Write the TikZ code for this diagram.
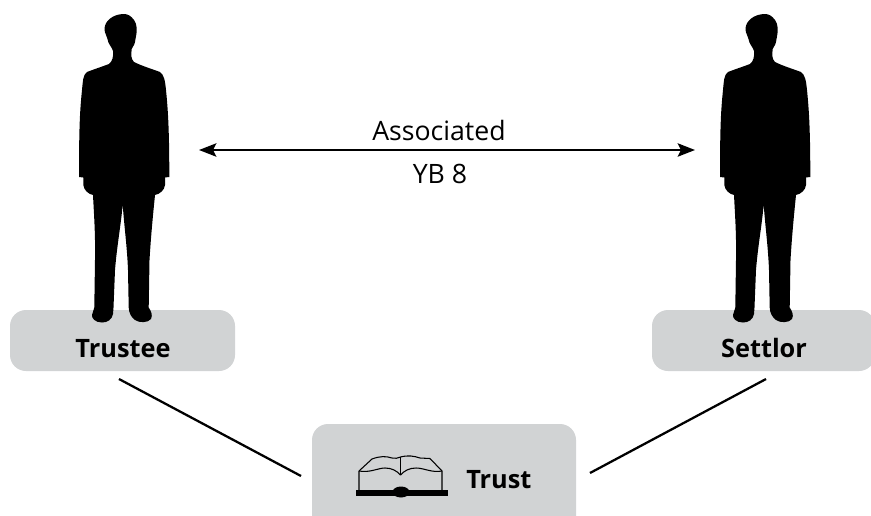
\documentclass[tikz,border=0pt]{standalone}
\usepackage{fontspec}
\setmainfont{Open Sans}
\usetikzlibrary{arrows.meta}
\definecolor{boxgray}{HTML}{D1D3D4}
\tikzset{
  x=0.75pt,y=-0.75pt,
  panel/.style={fill=boxgray,rounded corners=12pt,draw=none},
  lab/.style={font=\fontsize{19}{22}\selectfont\bfseries,text=black,inner sep=0pt},
  plain/.style={font=\fontsize{20}{24}\selectfont,text=black,inner sep=0pt},
  link/.style={line width=1.7pt,black},
  both/.style={line width=1.7pt,black,{Stealth[length=13pt,width=10pt,inset=2.5pt]}-{Stealth[length=13pt,width=10pt,inset=2.5pt]}},
  pagebit/.style={line width=0.8pt,black,line join=round}
}
\newcommand{\personshape}{%
  \fill[black] (124,14) .. controls (113,14) and (104.5,21) .. (104.5,29)
    .. controls (104.5,34) and (107,35) .. (107.5,39)
    .. controls (108,44) and (112,47) .. (113,51)
    .. controls (113.5,57) and (112.5,61) .. (109,64)
    .. controls (101,67) and (92,70) .. (87,72)
    .. controls (83,75) and (83,80) .. (82,90)
    .. controls (80,110) and (79,125) .. (79,177)
    -- (83.3,177.5) -- (83.3,185) .. controls (84,190) and (88,194) .. (93,195)
    .. controls (94,215) and (95.5,235) .. (95,260) -- (94.3,307.5)
    -- (92,315) .. controls (91.5,318) and (95,322.5) .. (102,322.5)
    .. controls (107,322.5) and (112,320) .. (113,314)
    -- (113.5,307.5) -- (115,270) .. controls (117,245) and (121,225) .. (122.7,204)
    .. controls (124,225) and (127,245) .. (128,270) -- (128.7,307.5)
    .. controls (129,313) and (131,317) .. (135,320)
    .. controls (139,323) and (148,323) .. (151,319)
    .. controls (153,315) and (151,311) .. (148.7,307.5)
    -- (149.5,260) .. controls (151,235) and (153,215) .. (155,195)
    .. controls (160,194) and (164.5,190) .. (165,185)
    -- (165,177.5) -- (169.3,177) .. controls (169.3,130) and (168,110) .. (166,90)
    .. controls (165,80) and (164,75) .. (160,72)
    .. controls (152,69) and (142,66) .. (134,62)
    .. controls (131,59) and (131,55) .. (131.7,49)
    .. controls (134,46) and (135,43) .. (135.5,39)
    .. controls (137.5,30) and (137,24) .. (134,20)
    .. controls (131,16) and (128,14) .. (124,14) -- cycle;
}
\begin{document}
\begin{tikzpicture}
\useasboundingbox (0,0) rectangle (871,515);
\begin{scope}
\clip (0,0) rectangle (871,515);
\path[panel] (10,310) rectangle (235,371);
\path[panel] (652,310) rectangle (875,371);
\path[panel] (312,424) rectangle (576,540);
% figures
\personshape
\begin{scope}[xshift=480.75pt]
\personshape
\end{scope}
\end{scope}
% labels
\node[lab,anchor=base] (trustee) at (123,357) {Trustee};
\node[lab,anchor=base] (settlor) at (764,357) {Settlor};
\node[lab,anchor=base west] (trust) at (466,488) {Trust};
\node[plain,anchor=base] (assoc) at (439,140) {Associated};
\node[plain,anchor=base] (yb) at (440,183) {YB 8};
% arrow
\coordinate (al) at (199,150);
\coordinate (ar) at (695,150);
\draw[both] (al) -- (ar);
% connectors
\coordinate (c1a) at (119,379);
\coordinate (c1b) at (301,476);
\coordinate (c2a) at (766,379);
\coordinate (c2b) at (590,473);
\draw[link] (c1a) -- (c1b);
\draw[link] (c2a) -- (c2b);
% book
\fill[black] (356,490) rectangle (448,495.5);
\fill[black] (401,492) ellipse (8.5 and 5.5);
\draw[pagebit] (359,491) -- (359,471) -- (372,459)
  .. controls (380,456) and (386,456) .. (392,458)
  .. controls (395,459) and (398,458) .. (400.5,457)
  .. controls (408,455) and (414,456) .. (420,458)
  -- (430,458.5)
  -- (442,471) -- (442,491);
\draw[pagebit] (359,471) .. controls (370,473) and (378,468) .. (385,468)
  .. controls (392,468) and (397,471) .. (400.5,475)
  .. controls (404,471) and (409,468) .. (416,468)
  .. controls (424,468) and (432,473) .. (442,471);
\draw[pagebit] (400.5,457) -- (400.5,475);
\end{tikzpicture}
\end{document}
